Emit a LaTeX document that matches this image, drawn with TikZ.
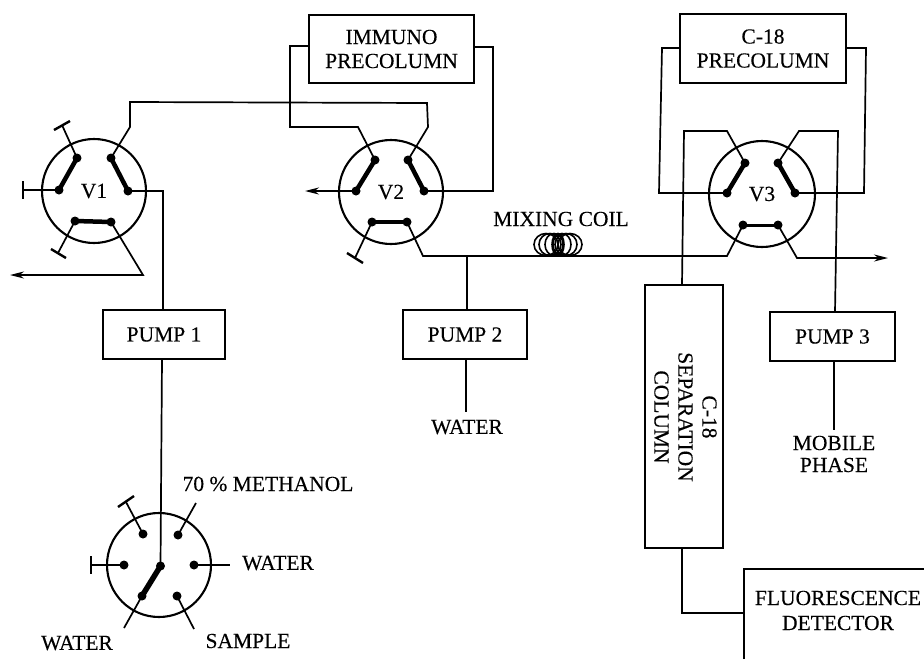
\documentclass[tikz,border=0pt]{standalone}
\usepackage{fontspec}
\setmainfont[FakeBold=0.25]{Liberation Serif}
\usetikzlibrary{arrows.meta}
\tikzset{
  pipe/.style={line width=1.7pt,line join=miter},
  rim/.style={line width=2pt},
  link/.style={line width=4.5pt,line cap=round},
  stopbar/.style={line width=2.4pt},
  flow/.style={pipe,-{Stealth[length=14pt,width=7pt]}},
  boxnode/.style={draw,line width=2pt,inner sep=0pt,align=center,font=\fontsize{21.5}{24}\selectfont},
  lbl/.style={inner sep=0pt,align=center,font=\fontsize{21.5}{24}\selectfont},
  port/.style={circle,fill=black,inner sep=0pt,minimum size=9pt},
  valve/.style={circle,draw,line width=2.1pt,inner sep=0pt,minimum size=104pt,font=\fontsize{21.5}{24}\selectfont},
  coilloop/.style={line width=1.6pt}
}
\begin{document}
\begin{tikzpicture}[x=1pt,y=-1pt]
\useasboundingbox (0,0) rectangle (924,659);
% valves
\node[valve] (v1) at (94,191) {V1};
\node[valve] (v2) at (391,192) {V2};
\node[valve,minimum size=106pt] (v3) at (762,194) {V3};
\node[valve] (v4) at (159,565) {};
% boxes
\node[boxnode,minimum width=165pt,minimum height=68pt] (immuno) at (391.5,49) {IMMUNO\\PRECOLUMN};
\node[boxnode,minimum width=166pt,minimum height=69pt] (c18) at (763,48.5) {C-18\\PRECOLUMN};
\node[boxnode,minimum width=122pt,minimum height=49pt] (pump1) at (164,334.5) {PUMP 1};
\node[boxnode,minimum width=124pt,minimum height=49pt] (pump2) at (465,334.5) {PUMP 2};
\node[boxnode,minimum width=125pt,minimum height=49pt] (pump3) at (832.5,336.5) {PUMP 3};
\node[boxnode,minimum width=78pt,minimum height=263pt] (sep) at (683.5,416.5) {};
\node[lbl,rotate=-90] (septext) at (685.5,417) {C-18\\SEPARATION\\COLUMN};
\coordinate (fl) at (744,569); \coordinate (fb) at (744,659); \coordinate (fr) at (924,569);
\draw[line width=2pt] (fb) -- (fl) -- (fr);
\node[lbl] (fluor) at (838,610.5) {FLUORESCENCE\\[1pt]DETECTOR};
% ports
\foreach \n/\x/\y in {a/77/158,b/59/190,c/111/158,d/128/191,e/75/221,f/111/222}{\node[port] (v1\n) at (\x,\y) {};}
\foreach \n/\x/\y in {a/375/160,b/356/191,c/408/160,d/424/191,e/372/222,f/407/222}{\node[port] (v2\n) at (\x,\y) {};}
\foreach \n/\x/\y in {a/745/163,b/727/193,c/778/163,d/795/193,e/743/225,f/778/225}{\node[port] (v3\n) at (\x,\y) {};}
\foreach \n/\x/\y in {a/143/534,b/178/535,c/124/565,d/194/565,e/142/596,f/177/596,g/160.5/566}{\node[port] (v4\n) at (\x,\y) {};}
% thick links
\draw[link] (v1a.center)--(v1b.center); \draw[link] (v1c.center)--(v1d.center); \draw[link] (v1e.center)--(v1f.center);
\draw[link] (v2a.center)--(v2b.center); \draw[link] (v2c.center)--(v2d.center); \draw[link] (v2e.center)--(v2f.center);
\draw[link] (v3a.center)--(v3b.center); \draw[link] (v3c.center)--(v3d.center); \draw[link,line width=3pt] (v3e.center)--(v3f.center);
\draw[link,line width=5.5pt] (v4g.center)--(v4e.center);
% closed stubs
\foreach \s/\ex/\ey/\ax/\ay/\bx/\by in {v1a/62/125/54/130/70/121, v1b/23/190/23/181/23/199, v1e/58/253/51/249/66/258, v2e/355/258/347/253/363/263, v4a/126/502/118/507/134/496, v4c/91/565/91/556/91/574}{
  \coordinate (end) at (\ex,\ey);
  \draw[pipe] (\s.center) -- (end);
  \coordinate (barA) at (\ax,\ay); \coordinate (barB) at (\bx,\by);
  \draw[stopbar] (barA) -- (barB);
}
% piping
\draw[pipe] (v1c.center) -- (130,127) -- (130,102) -- (427,103) -- (428,127) -- (v2c.center);
\draw[pipe] (v1d.center) -- (163,191) -- (163,310);
\draw[flow] (v1f.center) -- (143,275) -- (10,275);
\draw[pipe] (v2a.center) -- (358,127) -- (290,127) -- (290,46) -- (309,46);
\draw[pipe] (474,47) -- (493,47) -- (493,191) -- (v2d.center);
\draw[flow] (v2b.center) -- (305,191);
\draw[pipe] (v2f.center) -- (423,256) -- (727,256) -- (v3e.center);
\draw[pipe] (467,256) -- (467,310);
\draw[pipe] (v3a.center) -- (727,131) -- (684,131) -- (682,285);
\draw[pipe] (v3c.center) -- (799,131) -- (838,131) -- (835,312);
\draw[pipe] (v3b.center) -- (659,193) -- (662,48) -- (680,48);
\draw[pipe] (846,48) -- (866,48) -- (864,193) -- (v3d.center);
\draw[flow] (v3f.center) -- (797,258) -- (888,258);
% below
\draw[pipe] (162,359) -- (v4g.center);
\draw[pipe] (466,359) -- (466,412);
\draw[pipe] (834,361) -- (834,430);
\draw[pipe] (682,548) -- (682,613) -- (744,613);
\coordinate (w1) at (196,503); \coordinate (w2) at (230,565); \coordinate (w3) at (124,628); \coordinate (w4) at (194,629);
\draw[pipe] (v4b.center)--(w1); \draw[pipe] (v4d.center)--(w2); \draw[pipe] (v4e.center)--(w3); \draw[pipe] (v4f.center)--(w4);
% coil
\foreach \cx/\rx in {546/12,550/11,554/9,558/6,562/9,566/11,570/12}{
  \draw[coilloop] (\cx,244.5) ellipse ({\rx} and 11);
}
% labels
\node[lbl] (mix) at (561,219) {MIXING COIL};
\node[lbl] (wat2) at (467,427) {WATER};
\node[lbl] (mob) at (834,454) {MOBILE\\[-2pt]PHASE};
\node[lbl] (meth) at (268,484) {70 \% METHANOL};
\node[lbl] (wat3) at (278,563) {WATER};
\node[lbl] (wat4) at (77,643) {WATER};
\node[lbl] (samp) at (248,641) {SAMPLE};
\end{tikzpicture}
\end{document}
